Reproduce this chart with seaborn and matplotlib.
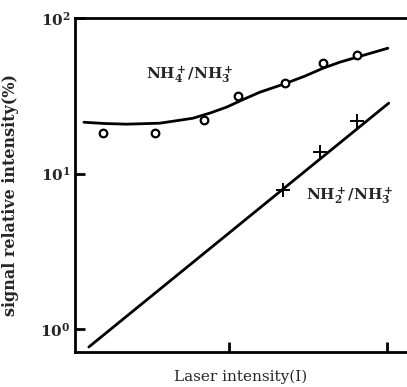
import numpy as np
import pandas as pd
import matplotlib
matplotlib.use("Agg")
import matplotlib.pyplot as plt
import seaborn as sns

# ---- data ----
# NH4+/NH3+ measured points (circles)
nh4_x = [0.160, 0.341, 0.695, 1.14, 2.26, 3.92, 6.42]
nh4_y = [18.2, 18.2, 22.1, 31.5, 38.2, 51.4, 57.8]
# NH4+/NH3+ fitted curve
nh4_fit_x = [0.122, 0.165, 0.227, 0.367, 0.593, 0.759, 0.971, 1.225, 1.57,
             2.26, 3.02, 3.92, 5.01, 6.42, 10.07]
nh4_fit_y = [21.4, 21.0, 20.8, 21.1, 22.7, 24.5, 26.8, 29.9, 33.4,
             37.9, 42.4, 47.6, 52.1, 56.1, 64.1]
# NH2+/NH3 measured points (crosses)
nh2_x = [2.19, 3.75, 6.42]
nh2_y = [7.83, 13.7, 21.8]
# NH2+/NH3 fitted straight line (log-log)
nh2_fit_x = [0.131, 10.2]
nh2_fit_y = [0.766, 28.4]

y_ticks = [1, 10, 100]
x_ticks = [1, 10]

sns.set_style("ticks")
plt.rcParams["font.family"] = ["DejaVu Serif"]
plt.rcParams["mathtext.fontset"] = "dejavuserif"
plt.rcParams["mathtext.default"] = "regular"

fig = plt.figure(figsize=(4.07, 3.87), dpi=100)
ax = fig.add_axes([0.184, 0.0904, 0.816, 0.8626])

df_fit1 = pd.DataFrame({"x": nh4_fit_x, "y": nh4_fit_y})
df_fit2 = pd.DataFrame({"x": nh2_fit_x, "y": nh2_fit_y})
df_p1 = pd.DataFrame({"x": nh4_x, "y": nh4_y})
df_p2 = pd.DataFrame({"x": nh2_x, "y": nh2_y})

sns.lineplot(data=df_fit1, x="x", y="y", ax=ax, color="black", lw=2.0, sort=True)
sns.lineplot(data=df_fit2, x="x", y="y", ax=ax, color="black", lw=2.0)
sns.scatterplot(data=df_p1, x="x", y="y", ax=ax, marker="o", s=30,
                facecolor="white", edgecolor="black", linewidth=1.6, zorder=3)
sns.scatterplot(data=df_p2, x="x", y="y", ax=ax, marker="+", s=90,
                color="black", linewidth=1.4, zorder=3)

ax.set_xscale("log")
ax.set_yscale("log")
ax.set_xlim(0.107, 13.3)
ax.set_ylim(0.711, 100)
ax.set_xticks(x_ticks)
ax.set_xticklabels([])
ax.set_yticks(y_ticks)
ax.minorticks_off()
ax.tick_params(axis="both", direction="in", length=7, width=2, color="black")
ax.tick_params(axis="y", labelsize=11, pad=3)
for lab in ax.get_yticklabels():
    lab.set_fontweight("bold")

for s in ["left", "bottom", "top"]:
    ax.spines[s].set_linewidth(2)
    ax.spines[s].set_color("black")
ax.spines["right"].set_visible(False)

ax.set_xlabel("Laser intensity(I)", fontsize=11, labelpad=9)
ax.set_ylabel("signal relative intensity(%)", fontsize=11.5, fontweight="bold")
ax.yaxis.set_label_coords(-0.168, 0.47)

ax.text(0.57, 43, "NH$_4^+$/NH$_3^+$", fontsize=11, fontweight="bold",
        ha="center", va="center")
ax.text(5.8, 7.2, "NH$_2^+$/NH$_3^+$", fontsize=11, fontweight="bold",
        ha="center", va="center")

fig.savefig("out.png", dpi=100)
